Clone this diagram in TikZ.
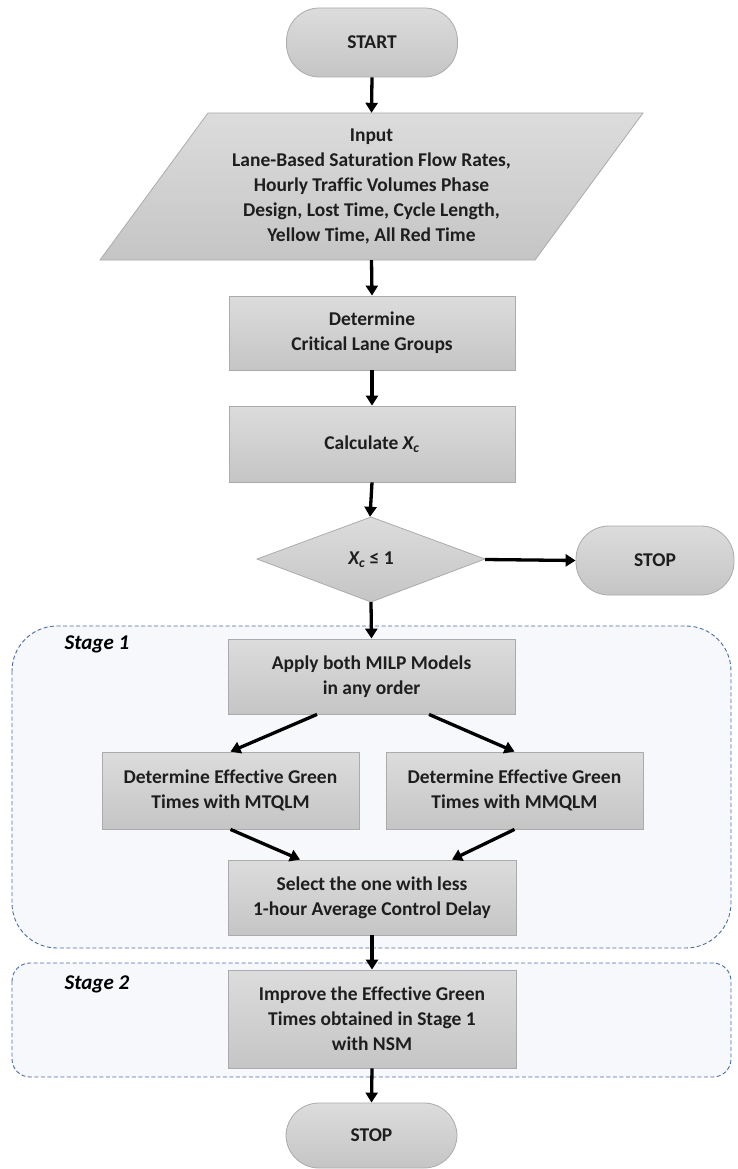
\documentclass[tikz,border=0pt]{standalone}
\usepackage{fontspec}
\setmainfont{Carlito}[Ligatures=NoCommon]
\usetikzlibrary{arrows.meta,shapes.geometric}
\definecolor{boxtop}{HTML}{DCDCDC}
\definecolor{boxbot}{HTML}{C5C5C5}
\definecolor{boxline}{HTML}{ABABAB}
\definecolor{txt}{HTML}{1E1E1E}
\definecolor{stagefill}{HTML}{F6F8FC}
\definecolor{stageline}{HTML}{4A6BA6}
\tikzset{
  boxtext/.style={font=\bfseries\fontsize{19.5}{25}\selectfont, text=txt, align=center},
  procbox/.style={boxtext, draw=boxline, line width=0.8pt, top color=boxtop, bottom color=boxbot, inner sep=0pt},
  termbox/.style={procbox, rounded corners=33pt},
  ghost/.style={boxtext, inner sep=0pt},
  flow/.style={line width=3.3pt, -{Triangle[length=10pt,width=12pt]}},
  stagebox/.style={draw=stageline, line width=0.9pt, dash pattern=on 4pt off 2.5pt, fill=stagefill},
  stagelabel/.style={font=\bfseries\itshape\fontsize{21}{25}\selectfont, text=black, anchor=west}
}
\newcommand{\Xc}{\textit{X\textsubscript{c}}}
\begin{document}
\begin{tikzpicture}[x=1pt,y=-1pt]
\useasboundingbox (0,0) rectangle (738,1169);
% stage containers
\draw[stagebox, rounded corners=45pt] (12,626) rectangle (731,948);
\draw[stagebox, rounded corners=18pt] (12,963) rectangle (731,1077);
\node[stagelabel] (s1) at (61,644) {Stage 1};
\node[stagelabel] (s2) at (61,984) {Stage 2};
% start
\node[termbox, minimum width=171pt, minimum height=69pt] (start) at (372,42.5) {START};
% input parallelogram
\shade[top color=boxtop, bottom color=boxbot, draw=boxline, line width=0.8pt]
  (208,113) -- (643,113) -- (535,260) -- (100,260) -- cycle;
\node[ghost, minimum width=330pt, minimum height=147pt] (input) at (371.5,186.5)
  {Input\\Lane-Based Saturation Flow Rates,\\Hourly Traffic Volumes Phase\\Design, Lost Time, Cycle Length,\\Yellow Time, All Red Time};
% boxes
\node[procbox, minimum width=286pt, minimum height=74pt] (det) at (372,333) {Determine\\Critical Lane Groups};
\node[procbox, minimum width=286pt, minimum height=76pt] (calc) at (372,444) {Calculate \Xc};
% decision
\shade[top color=boxtop, bottom color=boxbot, draw=boxline, line width=0.8pt]
  (371,517) -- (485,559) -- (371,602) -- (257,559) -- cycle;
\node[ghost, minimum width=228pt, minimum height=85pt] (dec) at (371,559.5) {\Xc{} ≤ 1};
\node[termbox, minimum width=158pt, minimum height=69pt] (stopa) at (655,560.5) {STOP};
% stage 1
\node[procbox, minimum width=287pt, minimum height=75pt] (apply) at (371.5,676.5) {Apply both MILP Models\\in any order};
\node[procbox, minimum width=257pt, minimum height=77pt] (left) at (230.5,790.5) {Determine Effective Green\\Times with MTQLM};
\node[procbox, minimum width=257pt, minimum height=77pt] (right) at (514.5,790.5) {Determine Effective Green\\Times with MMQLM};
\node[procbox, minimum width=288pt, minimum height=75pt] (select) at (372,897.5) {Select the one with less\\1-hour Average Control Delay};
% stage 2
\node[procbox, minimum width=288pt, minimum height=98pt] (improve) at (372,1019) {Improve the Effective Green\\Times obtained in Stage 1\\with NSM};
\node[termbox, minimum width=171pt, minimum height=65pt] (stopb) at (371.5,1135.5) {STOP};
% connectors
\draw[flow] (start.south) -- (input.north);
\draw[flow] (input.south) -- (det.north);
\draw[flow] (det.south) -- (calc.north);
\draw[flow] (calc.south) -- ([xshift=-1pt]dec.north);
\draw[flow] (dec.east) -- (stopa.west);
\draw[flow] (dec.south) -- (apply.north);
\draw[flow] ([xshift=-54.5pt]apply.south) -- (left.north);
\draw[flow] ([xshift=57.5pt]apply.south) -- (right.north);
\draw[flow] (left.south) -- ([xshift=-72pt]select.north);
\draw[flow] (right.south) -- ([xshift=80pt]select.north);
\draw[flow] (select.south) -- (improve.north);
\draw[flow] (improve.south) -- (stopb.north);
\end{tikzpicture}
\end{document}
